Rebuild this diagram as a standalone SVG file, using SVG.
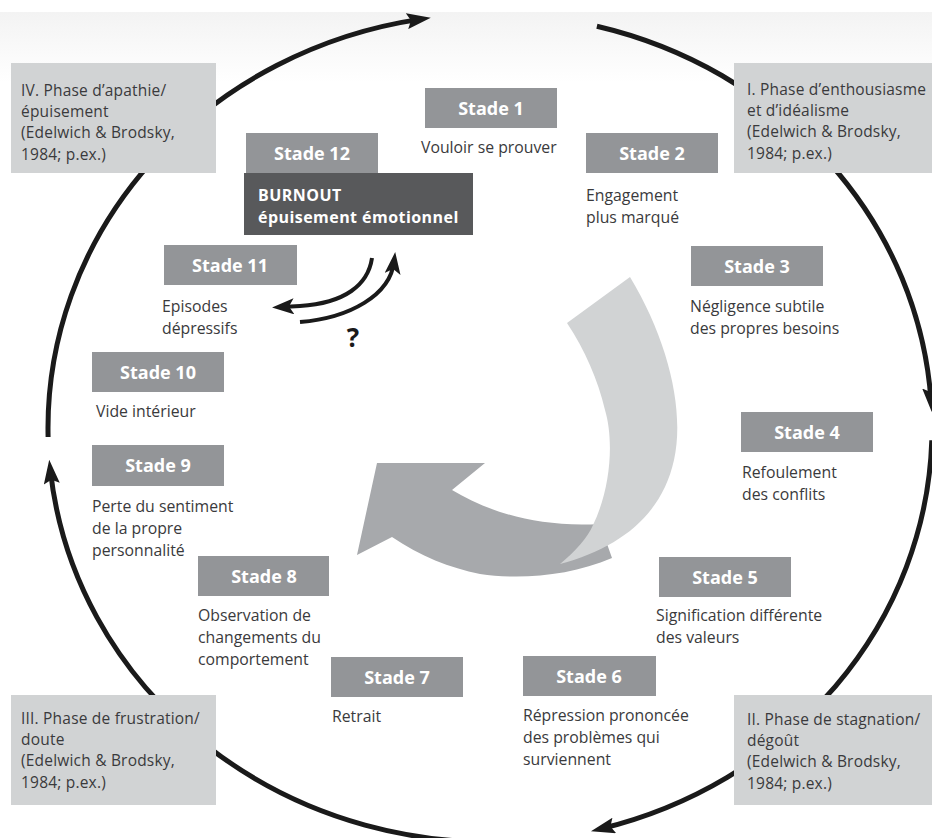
<svg xmlns="http://www.w3.org/2000/svg" width="932" height="838" viewBox="0 0 932 838">
<defs>
<linearGradient id="bg" x1="0" y1="0" x2="0" y2="1">
<stop offset="0" stop-color="#f3f3f3"/>
<stop offset="1" stop-color="#ffffff"/>
</linearGradient>
<marker id="big" viewBox="0 0 24 16" markerWidth="24" markerHeight="16" refX="14" refY="8" orient="auto" markerUnits="userSpaceOnUse">
<path d="M0,0 L24,8 L0,16 L4,8 Z" fill="#1a1a1a"/>
</marker>
<marker id="small" viewBox="0 0 22 16" markerWidth="22" markerHeight="16" refX="12" refY="8" orient="auto" markerUnits="userSpaceOnUse">
<path d="M0,0 L22,8 L0,16 L5,8 Z" fill="#1a1a1a"/>
</marker>
<style>
.phase rect{fill:#d1d3d4}
.stage rect{fill:#939598}
.pt{font-family:"Open Sans","Liberation Sans",sans-serif;font-size:15.5px;letter-spacing:0.2px;fill:#3a3a3c}
.st{font-family:"Open Sans","Liberation Sans",sans-serif;font-size:18px;font-weight:bold;fill:#ffffff;text-anchor:middle}
.dt{font-family:"Open Sans","Liberation Sans",sans-serif;font-size:15.8px;fill:#3a3a3c}
.bt{font-family:"Open Sans","Liberation Sans",sans-serif;font-size:16px;letter-spacing:0.45px;font-weight:bold;fill:#ffffff}
.ring{fill:none;stroke:#1a1a1a;stroke-width:5}
.sm{fill:none;stroke:#1a1a1a;stroke-width:4}
</style>
</defs>
<rect x="0" y="12" width="932" height="70" fill="url(#bg)"/>

<g id="connectors">
<path class="ring" d="M48.1,437 A442,414 0 0 1 420.9,19.1" marker-end="url(#big)"/>
<path class="ring" d="M596.9,26.3 A442,414 0 0 1 931.1,402" marker-end="url(#big)"/>
<path class="ring" d="M931.8,440.3 A442,414 0 0 1 600.7,828.8" marker-end="url(#big)"/>
<path class="ring" d="M528.5,840.4 A442,414 0 0 1 50.3,469.8" marker-end="url(#big)"/>
<path class="sm" d="M372,258 C368,285 345,303 300,306 L282,307" marker-end="url(#small)"/>
<path class="sm" d="M300,322 C350,318 390,295 394,262" marker-end="url(#small)"/>
</g>

<g id="big-arrow">
<path d="M357,555 L377,463 L485,463 L452,490 C485,510 535,528 600,524 L612,558 C570,576 520,580 480,574 C450,568 420,556 392,537 Z" fill="#a7a9ac"/>
<path d="M567,323 L630,277 C668,340 685,410 674,460 C662,515 620,548 560,564 C575,552 588,537 593,525 C611,488 614,440 605,410 C598,380 585,350 567,323 Z" fill="#d1d3d4"/>
</g>

<g id="phase-4" class="phase">
<rect x="11" y="63" width="205" height="110"/>
<text class="pt" x="21" y="96">IV. Phase d’apathie/</text>
<text class="pt" x="21" y="117.2">épuisement</text>
<text class="pt" x="21" y="138.4">(Edelwich &amp; Brodsky,</text>
<text class="pt" x="21" y="159.6">1984; p.ex.)</text>
</g>
<g id="phase-1" class="phase">
<rect x="734" y="63" width="200" height="110"/>
<text class="pt" x="747" y="95">I. Phase d’enthousiasme</text>
<text class="pt" x="747" y="116.2">et d’idéalisme</text>
<text class="pt" x="747" y="137.4">(Edelwich &amp; Brodsky,</text>
<text class="pt" x="747" y="158.6">1984; p.ex.)</text>
</g>
<g id="phase-2" class="phase">
<rect x="734" y="695" width="200" height="110"/>
<text class="pt" x="747" y="725">II. Phase de stagnation/</text>
<text class="pt" x="747" y="746.2">dégoût</text>
<text class="pt" x="747" y="767.4">(Edelwich &amp; Brodsky,</text>
<text class="pt" x="747" y="788.6">1984; p.ex.)</text>
</g>
<g id="phase-3" class="phase">
<rect x="11" y="695" width="205" height="110"/>
<text class="pt" x="21" y="724">III. Phase de frustration/</text>
<text class="pt" x="21" y="745.2">doute</text>
<text class="pt" x="21" y="766.4">(Edelwich &amp; Brodsky,</text>
<text class="pt" x="21" y="787.6">1984; p.ex.)</text>
</g>

<g id="stade-1" class="stage">
<rect x="425" y="88" width="132" height="40"/>
<text class="st" x="491" y="115">Stade 1</text>
<text class="dt" x="421" y="153">Vouloir se prouver</text>
</g>
<g id="stade-2" class="stage">
<rect x="586" y="133" width="132" height="40"/>
<text class="st" x="652" y="160">Stade 2</text>
<text class="dt" x="586" y="201">Engagement</text>
<text class="dt" x="586" y="223">plus marqué</text>
</g>
<g id="stade-3" class="stage">
<rect x="691" y="246" width="132" height="40"/>
<text class="st" x="757" y="273">Stade 3</text>
<text class="dt" x="690" y="312">Négligence subtile</text>
<text class="dt" x="690" y="334">des propres besoins</text>
</g>
<g id="stade-4" class="stage">
<rect x="741" y="412" width="132" height="40"/>
<text class="st" x="807" y="439">Stade 4</text>
<text class="dt" x="742" y="478">Refoulement</text>
<text class="dt" x="742" y="500">des conflits</text>
</g>
<g id="stade-5" class="stage">
<rect x="659" y="557" width="132" height="40"/>
<text class="st" x="725" y="584">Stade 5</text>
<text class="dt" x="656" y="621">Signification différente</text>
<text class="dt" x="656" y="643">des valeurs</text>
</g>
<g id="stade-6" class="stage">
<rect x="523" y="656" width="133" height="40"/>
<text class="st" x="589" y="683">Stade 6</text>
<text class="dt" x="523" y="721">Répression prononcée</text>
<text class="dt" x="523" y="743">des problèmes qui</text>
<text class="dt" x="523" y="765">surviennent</text>
</g>
<g id="stade-7" class="stage">
<rect x="331" y="657" width="132" height="40"/>
<text class="st" x="397" y="684">Stade 7</text>
<text class="dt" x="332" y="722">Retrait</text>
</g>
<g id="stade-8" class="stage">
<rect x="198" y="556" width="131" height="40"/>
<text class="st" x="264" y="583">Stade 8</text>
<text class="dt" x="198" y="621">Observation de</text>
<text class="dt" x="198" y="643">changements du</text>
<text class="dt" x="198" y="665">comportement</text>
</g>
<g id="stade-9" class="stage">
<rect x="92" y="445" width="132" height="41"/>
<text class="st" x="158" y="472">Stade 9</text>
<text class="dt" x="92" y="512">Perte du sentiment</text>
<text class="dt" x="92" y="534">de la propre</text>
<text class="dt" x="92" y="556">personnalité</text>
</g>
<g id="stade-10" class="stage">
<rect x="92" y="352" width="132" height="40"/>
<text class="st" x="158" y="379">Stade 10</text>
<text class="dt" x="96" y="417">Vide intérieur</text>
</g>
<g id="stade-11" class="stage">
<rect x="164" y="245" width="133" height="40"/>
<text class="st" x="230" y="272">Stade 11</text>
<text class="dt" x="162" y="312">Episodes</text>
<text class="dt" x="162" y="334">dépressifs</text>
</g>
<g id="stade-12" class="stage">
<rect x="246" y="133" width="132" height="40"/>
<text class="st" x="312" y="160">Stade 12</text>
<rect x="244" y="173" width="229" height="62" style="fill:#58595b"/>
<text class="bt" x="258" y="201">BURNOUT</text>
<text class="bt" x="258" y="223">épuisement émotionnel</text>
</g>
<g id="question">
<text x="353" y="347" style="font-family:'Open Sans','Liberation Sans',sans-serif;font-size:26px;font-weight:bold;fill:#1a1a1a;text-anchor:middle">?</text>
</g>
</svg>
